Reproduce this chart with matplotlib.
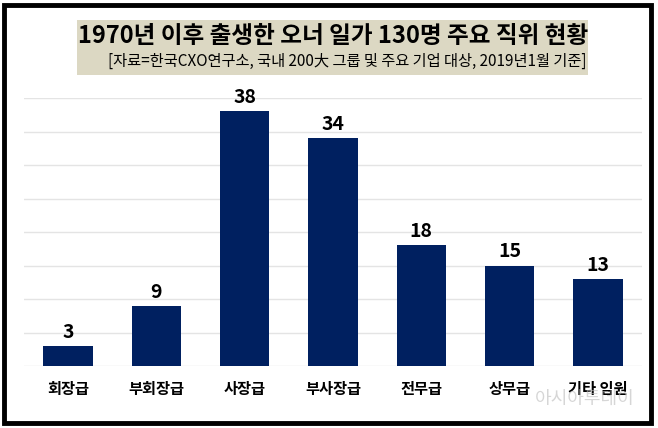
import matplotlib
matplotlib.use('Agg')
import matplotlib.pyplot as plt
from matplotlib.patches import Rectangle

plt.rcParams['font.family'] = ['Noto Sans CJK KR', 'DejaVu Sans']

# data
categories = ['회장급', '부회장급', '사장급', '부사장급', '전무급', '상무급', '기타 임원']
counts = [3, 9, 38, 34, 18, 15, 13]
title = '1970년 이후 출생한 오너 일가 130명 주요 직위 현황'
subtitle = '[자료=한국CXO연구소, 국내 200大 그룹 및 주요 기업 대상, 2019년1월 기준]'

W, H = 658, 428
fig = plt.figure(figsize=(W / 100, H / 100), dpi=100)
fig.patch.set_facecolor('white')

# outer black frame
fig.patches.append(Rectangle((4 / W, 1 - 423 / H), 647 / W, 418 / H,
                             transform=fig.transFigure, fill=False,
                             edgecolor='black', linewidth=3.5))

# title box
fig.patches.append(Rectangle((77 / W, 1 - 75 / H), 511 / W, 55 / H,
                             transform=fig.transFigure, facecolor='#dcd8c3',
                             edgecolor='none'))
fig.text(333 / W, 1 - 36 / H, title, ha='center', va='center',
         fontsize=17, fontweight='bold', color='black')
fig.text(586 / W, 1 - 61 / H, subtitle, ha='right', va='center',
         fontsize=11, color='black')

ax = fig.add_axes([24 / W, 1 - 366 / H, 618 / W, 268 / H])
x = range(len(categories))
ax.bar(x, counts, width=0.56, color='#002060', zorder=3)
for xi, v in zip(x, counts):
    ax.text(xi, v + 0.6, str(v), ha='center', va='bottom',
            fontsize=14, fontweight='bold', color='black')

ax.set_xlim(-0.5, len(categories) - 0.5)
ax.set_ylim(0, 40)
ax.set_yticks(range(0, 41, 5))
ax.yaxis.grid(True, color='#e4e4e4', linewidth=1)
ax.set_axisbelow(True)
ax.tick_params(axis='y', left=False, labelleft=False)
ax.tick_params(axis='x', bottom=False, pad=7)
ax.set_xticks(list(x))
ax.set_xticklabels(categories, fontsize=11, fontweight='bold')
for s in ax.spines.values():
    s.set_visible(False)
ax.patch.set_alpha(0)

# watermark
fig.text(585 / W, 1 - 399 / H, '아시아투데이', ha='center', va='center',
         fontsize=13, color='#bbbbbb', alpha=0.6, zorder=10)

fig.savefig('out.png', dpi=100)
